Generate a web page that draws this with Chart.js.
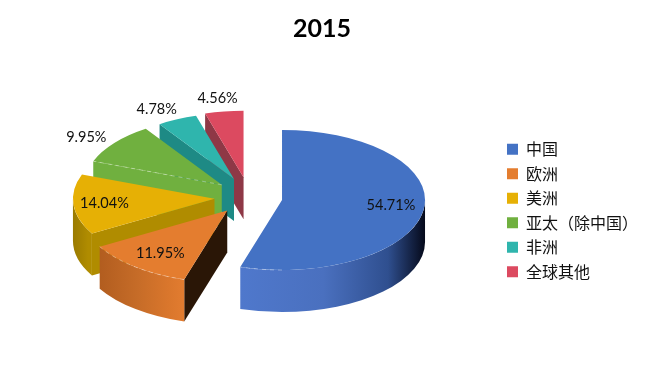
<!DOCTYPE html>
<html>
<head>
<meta charset="utf-8">
<style>html,body{margin:0;padding:0;background:#fff}canvas{display:block}</style>
<script src="https://cdn.jsdelivr.net/npm/chart.js@4"></script>
</head>
<body>
<canvas id="c" width="649" height="381"></canvas>
<script>
const titleText = '2015';
const categories = ['中国', '欧洲', '美洲', '亚太（除中国）', '非洲', '全球其他'];
const values = [54.71, 11.95, 14.04, 9.95, 4.78, 4.56];
const topColors = ['#4472c4', '#e47d2f', '#e6b005', '#70b03f', '#2fb5ad', '#dc4a60'];
const faceColors = ['#1f3563', '#2a1606', '#b08c00', '#70b03f', '#1e8a85', '#8e3846'];
const sideStops = [
  ['#4f78cc', '#4a70bf', '#2f4f8f', '#05091a'],
  ['#b25d1f', '#c66c28', '#d9762c', '#e27c30'],
  ['#9a7b00', '#a68400', '#b08c00', '#b08c00'],
  ['#70b03f', '#70b03f', '#70b03f', '#70b03f'],
  ['#1e8a85', '#1e8a85', '#1e8a85', '#1e8a85'],
  ['#8e3846', '#8e3846', '#8e3846', '#8e3846']
];
const sliceScale = [1, 1.03, 0.99, 0.96, 0.94, 0.95];
const labelRadiusX = [0.77, 0.73, 0.78, 1.26, 1.36, 1.34];
const labelRadiusY = [0.48, 0.75, 0.8, 1.13, 1.17, 1.2];

const pieRadius = 143, tilt = 0.49, backTilt = 0.6, depth = 42, explode = 34;
const centerX = 248.4, centerY = 197.5;

const pie3d = {
  id: 'pie3d',
  beforeDatasetDraw(chart, args) {
    const ctx = chart.ctx, arcs = args.meta.data, pos = [];
    for (let i = arcs.length - 1; i >= 0; i--) {
      const arc = arcs[i];
      const a = arc.startAngle, b = arc.endAngle, mid = (a + b) / 2;
      const sinM = Math.sin(mid), cosM = Math.cos(mid);
      const cx = centerX + cosM * explode;
      const cy = centerY + sinM * explode * (sinM < 0 ? backTilt : tilt);
      const s = sliceScale[i], R = arc.outerRadius * s, rY = R * tilt;
      const px = t => cx + R * Math.cos(t), py = t => cy + rY * Math.sin(t);

      // cut face along the starting edge
      ctx.save();
      ctx.fillStyle = faceColors[i];
      ctx.beginPath();
      ctx.moveTo(cx, cy);
      ctx.lineTo(px(a), py(a));
      ctx.lineTo(px(a), py(a) + depth);
      ctx.lineTo(cx, cy + depth);
      ctx.closePath();
      ctx.fill();

      // outer wall on the front half of the ellipse
      const t0 = Math.max(a, 0), t1 = Math.min(b, Math.PI);
      if (t1 > t0) {
        const x0 = Math.min(px(t0), px(t1)), x1 = Math.max(px(t0), px(t1));
        const g = ctx.createLinearGradient(x0, 0, x1, 0);
        const st = sideStops[i];
        g.addColorStop(0, st[0]); g.addColorStop(0.45, st[1]); g.addColorStop(0.8, st[2]); g.addColorStop(1, st[3]);
        ctx.fillStyle = g;
        ctx.beginPath();
        ctx.ellipse(cx, cy + depth, R, rY, 0, t0, t1, false);
        ctx.ellipse(cx, cy, R, rY, 0, t1, t0, true);
        ctx.closePath();
        ctx.fill();
      }
      ctx.restore();

      // top face, drawn by the library's own arc element
      ctx.save();
      ctx.translate(cx, cy);
      ctx.scale(s, tilt * s);
      ctx.translate(-arc.x, -arc.y);
      arc.draw(ctx, chart.chartArea);
      ctx.restore();

      // faint dashed highlight where the top meets a wall
      ctx.save();
      ctx.strokeStyle = 'rgba(255,255,255,0.35)';
      ctx.lineWidth = 1;
      ctx.setLineDash([4, 4]);
      ctx.beginPath();
      if (i === 3) {
        ctx.moveTo(cx, cy);
        ctx.lineTo(px(a), py(a));
      } else if (i === 1) {
        ctx.ellipse(cx, cy, R, rY, 0, t0, t1, false);
      } else if (i === 0) {
        ctx.ellipse(cx, cy, R, rY, 0, Math.PI / 2, t1, false);
      }
      ctx.stroke();
      ctx.restore();

      pos[i] = [cx + labelRadiusX[i] * R * cosM, cy + labelRadiusY[i] * rY * sinM];
    }
    // labels go on top of every slice
    ctx.save();
    ctx.font = '14.5px Lato, "Open Sans", sans-serif';
    ctx.fillStyle = '#111';
    ctx.textAlign = 'center';
    ctx.textBaseline = 'middle';
    arcs.forEach((arc, i) => ctx.fillText(values[i].toFixed(2) + '%', pos[i][0], pos[i][1]));
    ctx.restore();
    return false;
  }
};

new Chart(document.getElementById('c'), {
  type: 'pie',
  data: {
    labels: categories,
    datasets: [{ data: values, backgroundColor: topColors, borderWidth: 0, radius: pieRadius }]
  },
  options: {
    responsive: false,
    animation: false,
    layout: { padding: { top: 4, bottom: -36, left: -4, right: 1 } },
    plugins: {
      tooltip: { enabled: false },
      title: {
        display: true,
        text: titleText,
        color: '#000',
        font: { family: 'Lato, "Open Sans", sans-serif', size: 25, weight: 'bold' },
        padding: { top: 10, bottom: 8 }
      },
      legend: {
        display: true,
        position: 'right',
        labels: {
          boxWidth: 11,
          boxHeight: 11,
          padding: 8.5,
          color: '#111',
          font: { family: '"Noto Sans CJK SC", sans-serif', size: 16 }
        }
      }
    }
  },
  plugins: [pie3d]
});
</script>
</body>
</html>
